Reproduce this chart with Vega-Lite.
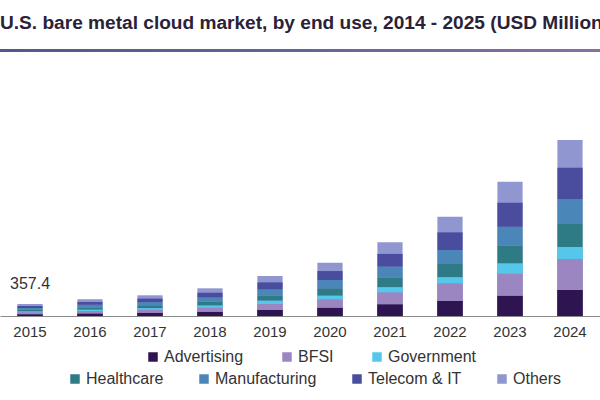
{
  "$schema": "https://vega.github.io/schema/vega-lite/v6.json",
  "width": 600,
  "height": 267,
  "autosize": {"type": "none"},
  "padding": {"top": 49, "left": 0, "right": 0, "bottom": 84},
  "background": "white",
  "config": {
    "view": {"stroke": null},
    "font": "Liberation Sans",
    "legend": {"padding": 0}
  },
  "title": {
    "text": "U.S. bare metal cloud market, by end use, 2014 - 2025 (USD Million)",
    "anchor": "start",
    "font": "Liberation Sans",
    "fontSize": 19.1,
    "fontWeight": "bold",
    "color": "#2a2238",
    "baseline": "alphabetic",
    "offset": 1
  },
  "datasets": {
    "market": [
      {"year": "2015", "end_use": "Advertising", "value": 54},
      {"year": "2015", "end_use": "BFSI", "value": 55},
      {"year": "2015", "end_use": "Government", "value": 25},
      {"year": "2015", "end_use": "Healthcare", "value": 50},
      {"year": "2015", "end_use": "Manufacturing", "value": 55.4},
      {"year": "2015", "end_use": "Telecom & IT", "value": 61},
      {"year": "2015", "end_use": "Others", "value": 57},
      {"year": "2016", "end_use": "Advertising", "value": 75},
      {"year": "2016", "end_use": "BFSI", "value": 77},
      {"year": "2016", "end_use": "Government", "value": 35},
      {"year": "2016", "end_use": "Healthcare", "value": 70},
      {"year": "2016", "end_use": "Manufacturing", "value": 77},
      {"year": "2016", "end_use": "Telecom & IT", "value": 84},
      {"year": "2016", "end_use": "Others", "value": 79},
      {"year": "2017", "end_use": "Advertising", "value": 93},
      {"year": "2017", "end_use": "BFSI", "value": 95},
      {"year": "2017", "end_use": "Government", "value": 43},
      {"year": "2017", "end_use": "Healthcare", "value": 86},
      {"year": "2017", "end_use": "Manufacturing", "value": 96},
      {"year": "2017", "end_use": "Telecom & IT", "value": 105},
      {"year": "2017", "end_use": "Others", "value": 99},
      {"year": "2018", "end_use": "Advertising", "value": 124},
      {"year": "2018", "end_use": "BFSI", "value": 128},
      {"year": "2018", "end_use": "Government", "value": 58},
      {"year": "2018", "end_use": "Healthcare", "value": 115},
      {"year": "2018", "end_use": "Manufacturing", "value": 128},
      {"year": "2018", "end_use": "Telecom & IT", "value": 140},
      {"year": "2018", "end_use": "Others", "value": 132},
      {"year": "2019", "end_use": "Advertising", "value": 179},
      {"year": "2019", "end_use": "BFSI", "value": 179},
      {"year": "2019", "end_use": "Government", "value": 98},
      {"year": "2019", "end_use": "Healthcare", "value": 149},
      {"year": "2019", "end_use": "Manufacturing", "value": 188},
      {"year": "2019", "end_use": "Telecom & IT", "value": 209},
      {"year": "2019", "end_use": "Others", "value": 188},
      {"year": "2020", "end_use": "Advertising", "value": 247},
      {"year": "2020", "end_use": "BFSI", "value": 250},
      {"year": "2020", "end_use": "Government", "value": 107},
      {"year": "2020", "end_use": "Healthcare", "value": 221},
      {"year": "2020", "end_use": "Manufacturing", "value": 247},
      {"year": "2020", "end_use": "Telecom & IT", "value": 268},
      {"year": "2020", "end_use": "Others", "value": 247},
      {"year": "2021", "end_use": "Advertising", "value": 349},
      {"year": "2021", "end_use": "BFSI", "value": 358},
      {"year": "2021", "end_use": "Government", "value": 149},
      {"year": "2021", "end_use": "Healthcare", "value": 289},
      {"year": "2021", "end_use": "Manufacturing", "value": 328},
      {"year": "2021", "end_use": "Telecom & IT", "value": 378},
      {"year": "2021", "end_use": "Others", "value": 349},
      {"year": "2022", "end_use": "Advertising", "value": 447},
      {"year": "2022", "end_use": "BFSI", "value": 527},
      {"year": "2022", "end_use": "Government", "value": 179},
      {"year": "2022", "end_use": "Healthcare", "value": 396},
      {"year": "2022", "end_use": "Manufacturing", "value": 417},
      {"year": "2022", "end_use": "Telecom & IT", "value": 527},
      {"year": "2022", "end_use": "Others", "value": 468},
      {"year": "2023", "end_use": "Advertising", "value": 605},
      {"year": "2023", "end_use": "BFSI", "value": 665},
      {"year": "2023", "end_use": "Government", "value": 298},
      {"year": "2023", "end_use": "Healthcare", "value": 527},
      {"year": "2023", "end_use": "Manufacturing", "value": 566},
      {"year": "2023", "end_use": "Telecom & IT", "value": 715},
      {"year": "2023", "end_use": "Others", "value": 626},
      {"year": "2024", "end_use": "Advertising", "value": 775},
      {"year": "2024", "end_use": "BFSI", "value": 924},
      {"year": "2024", "end_use": "Government", "value": 358},
      {"year": "2024", "end_use": "Healthcare", "value": 685},
      {"year": "2024", "end_use": "Manufacturing", "value": 745},
      {"year": "2024", "end_use": "Telecom & IT", "value": 933},
      {"year": "2024", "end_use": "Others", "value": 825}
    ],
    "labels": [
      {"year": "2015", "total": 357.4, "text": "357.4"}
    ]
  },
  "layer": [
    {
      "data": {"values": [{"top": 7960, "bottom": 7870}]},
      "mark": {
        "type": "rect",
        "clip": false,
        "fill": {
          "gradient": "linear",
          "x1": 0, "y1": 0, "x2": 1, "y2": 0,
          "stops": [
            {"offset": 0, "color": "#4f5a8c"},
            {"offset": 0.5, "color": "#626695"},
            {"offset": 1, "color": "#8b6f9f"}
          ]
        }
      },
      "encoding": {
        "y": {"field": "top", "type": "quantitative", "scale": {"domain": [0, 7960]}, "axis": null},
        "y2": {"field": "bottom"}
      }
    },
    {
      "data": {"name": "market"},
      "mark": {"type": "bar", "color": "#8f96d0"},
      "encoding": {
        "x": {
          "field": "year", "type": "nominal", "sort": "ascending",
          "scale": {"paddingInner": 0.58, "paddingOuter": 0.29},
          "axis": {
            "title": null, "ticks": false, "labelAngle": 0,
            "labelFontSize": 15, "labelColor": "#333333", "labelPadding": 8,
            "labelFont": "Liberation Sans",
            "domainColor": "#8a8a8a", "domainWidth": 1
          }
        },
        "y": {"field": "value", "type": "quantitative", "aggregate": "sum", "scale": {"domain": [0, 7960]}, "axis": null}
      }
    },
    {
      "data": {"name": "market"},
      "transform": [{"filter": {"not": {"field": "end_use", "equal": "Others"}}}],
      "mark": {"type": "bar"},
      "encoding": {
        "x": {"field": "year", "type": "nominal", "sort": "ascending"},
        "y": {"field": "value", "type": "quantitative", "aggregate": "sum", "scale": {"domain": [0, 7960]}, "axis": null},
        "order": {"field": "end_use", "type": "ordinal", "sort": "ascending"},
        "color": {
          "field": "end_use", "type": "nominal",
          "scale": {
            "domain": ["Advertising", "BFSI", "Government", "Healthcare", "Manufacturing", "Telecom & IT", "Others"],
            "range": ["#2e1450", "#9b86c2", "#55c7ea", "#2e7a85", "#4a87b8", "#4a4c9e", "#8f96d0"]
          },
          "legend": {
            "values": ["Healthcare", "Manufacturing", "Telecom & IT", "Others"],
            "title": null, "orient": "none", "direction": "horizontal",
            "legendX": 67, "legendY": 322,
            "symbolType": "square", "symbolSize": 90, "symbolStrokeWidth": 0,
            "labelFontSize": 16, "labelColor": "#333333", "labelFont": "Liberation Sans",
            "labelOffset": 3, "columnPadding": 32
          }
        }
      }
    },
    {
      "data": {"name": "market"},
      "transform": [{"filter": {"field": "end_use", "oneOf": ["Advertising", "BFSI", "Government"]}}],
      "mark": {"type": "bar"},
      "encoding": {
        "x": {"field": "year", "type": "nominal", "sort": "ascending"},
        "y": {"field": "value", "type": "quantitative", "aggregate": "sum", "scale": {"domain": [0, 7960]}, "axis": null},
        "order": {"field": "end_use", "type": "ordinal", "sort": "ascending"},
        "color": {
          "field": "end_use", "type": "nominal",
          "scale": {
            "domain": ["Advertising", "BFSI", "Government"],
            "range": ["#2e1450", "#9b86c2", "#55c7ea"]
          },
          "legend": {
            "title": null, "orient": "none", "direction": "horizontal",
            "legendX": 145, "legendY": 300,
            "symbolType": "square", "symbolSize": 90, "symbolStrokeWidth": 0,
            "labelFontSize": 16, "labelColor": "#333333", "labelFont": "Liberation Sans",
            "labelOffset": 3, "columnPadding": 35
          }
        }
      }
    },
    {
      "data": {"name": "labels"},
      "mark": {"type": "text", "fontSize": 16, "font": "Liberation Sans", "color": "#333333", "baseline": "alphabetic", "dy": -15},
      "encoding": {
        "x": {"field": "year", "type": "nominal", "sort": "ascending"},
        "y": {"field": "total", "type": "quantitative", "scale": {"domain": [0, 7960]}, "axis": null},
        "text": {"field": "text"}
      }
    }
  ],
  "resolve": {"scale": {"color": "independent"}}
}
